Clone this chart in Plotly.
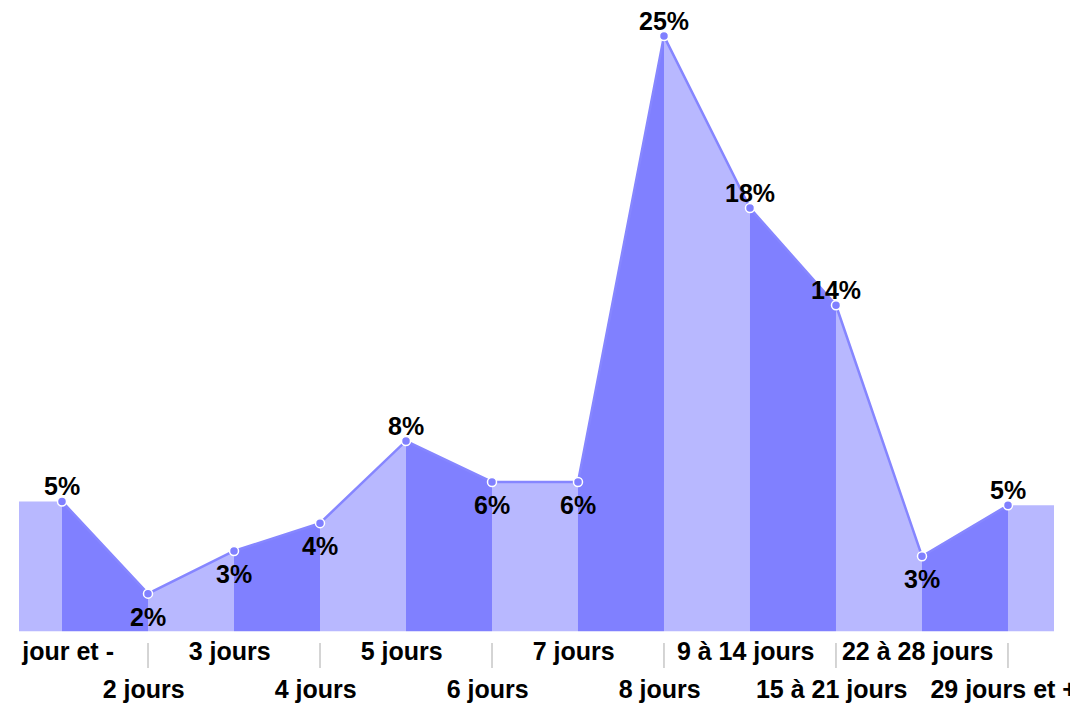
import plotly.graph_objects as go

# ---- data ----
categories = ["1 jour et -", "2 jours", "3 jours", "4 jours", "5 jours", "6 jours",
              "7 jours", "8 jours", "9 à 14 jours", "15 à 21 jours", "22 à 28 jours",
              "29 jours et +"]
values = [5.46, 1.59, 3.38, 4.55, 8.0, 6.28, 6.28, 25.0, 17.78, 13.7, 3.16, 5.3]
value_labels = ["5%", "2%", "3%", "4%", "8%", "6%", "6%", "25%", "18%", "14%", "3%", "5%"]
label_side = ["above", "below", "below", "below", "above", "below", "below",
              "above", "above", "above", "below", "above"]

# ---- style ----
W, H = 1070, 697           # page has an 8px body margin
LIGHT = "#b8b8ff"
DARK = "#8080ff"
LINE = "#8686ff"
FONT = "Arial, Liberation Sans, sans-serif"
FS = 25
X_MIN, X_MAX = -0.5, 11.535
Y_MAX = 26.18
STRIP_PX = 73.5
STRIP = STRIP_PX / H

n = len(categories)
xs = list(range(n))

fig = go.Figure()

# edge bands
fig.add_trace(go.Scatter(x=[X_MIN, 0], y=[values[0], values[0]], fill="tozeroy",
                         mode="none", fillcolor=LIGHT, hoverinfo="skip", showlegend=False))
fig.add_trace(go.Scatter(x=[n - 1, X_MAX], y=[values[-1], values[-1]], fill="tozeroy",
                         mode="none", fillcolor=LIGHT, hoverinfo="skip", showlegend=False))
# alternating segments
for i in range(n - 1):
    fig.add_trace(go.Scatter(x=[xs[i], xs[i + 1]], y=[values[i], values[i + 1]],
                             fill="tozeroy", mode="none",
                             fillcolor=DARK if i % 2 == 0 else LIGHT,
                             hoverinfo="skip", showlegend=False))

# line with markers
fig.add_trace(go.Scatter(x=xs, y=values, mode="lines+markers",
                         line=dict(color=LINE, width=2.5),
                         marker=dict(size=9, color=DARK, line=dict(color="white", width=1.5)),
                         showlegend=False, cliponaxis=False))

# value labels
for i in range(n):
    above = label_side[i] == "above"
    fig.add_annotation(x=xs[i], y=values[i], xref="x", yref="y",
                       text=f"<b>{value_labels[i]}</b>", showarrow=False,
                       yanchor="middle", yshift=15 if above else -23,
                       font=dict(family=FONT, size=FS, color="black"))

# category labels (second subplot strip)
row1 = [i for i in range(n) if i % 2 == 0]
row2 = [i for i in range(n) if i % 2 == 1]
row_y = {0: (H - 646) / STRIP_PX, 1: (H - 684) / STRIP_PX}

fig.add_trace(go.Scatter(x=[xs[0] - 0.05], y=[row_y[0]], mode="text",
                         text=[f"<b>{categories[0]}</b>"], textposition="middle center",
                         textfont=dict(family=FONT, size=FS, color="black"),
                         xaxis="x2", yaxis="y2", cliponaxis=True,
                         hoverinfo="skip", showlegend=False))
fig.add_trace(go.Scatter(x=[xs[i] - 0.05 for i in row1[1:]], y=[row_y[0]] * (len(row1) - 1),
                         mode="text", text=[f"<b>{categories[i]}</b>" for i in row1[1:]],
                         textposition="middle center",
                         textfont=dict(family=FONT, size=FS, color="black"),
                         xaxis="x2", yaxis="y2", cliponaxis=False,
                         hoverinfo="skip", showlegend=False))
fig.add_trace(go.Scatter(x=[xs[i] - 0.05 for i in row2], y=[row_y[1]] * len(row2),
                         mode="text", text=[f"<b>{categories[i]}</b>" for i in row2],
                         textposition="middle center",
                         textfont=dict(family=FONT, size=FS, color="black"),
                         xaxis="x2", yaxis="y2", cliponaxis=False,
                         hoverinfo="skip", showlegend=False))

# separators
for i in row2:
    fig.add_shape(type="line", xref="x", yref="paper", x0=xs[i], x1=xs[i],
                  y0=(H - 660) / H, y1=(H - 635) / H,
                  line=dict(color="#aaaaaa", width=1))

hidden = dict(showgrid=False, zeroline=False, showticklabels=False, ticks="",
              showline=False, fixedrange=True)
fig.update_layout(
    width=W, height=H,
    margin=dict(l=11, r=24, t=0, b=0),
    paper_bgcolor="white", plot_bgcolor="white",
    xaxis=dict(range=[X_MIN, X_MAX], domain=[0, 1], **hidden),
    yaxis=dict(range=[0, Y_MAX], domain=[STRIP, 1], **hidden),
    xaxis2=dict(range=[X_MIN, X_MAX], domain=[0, 1], anchor="y2", **hidden),
    yaxis2=dict(range=[0, 1], domain=[0, STRIP], anchor="x2", **hidden),
    showlegend=False,
)

fig.write_html("out.html")
